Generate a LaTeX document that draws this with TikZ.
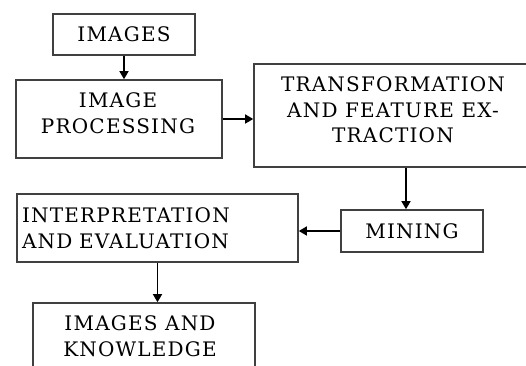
\documentclass[tikz,border=0pt]{standalone}
\usepackage{fontspec}
\newfontfamily\boxfont[LetterSpace=6]{DejaVu Serif}
\usetikzlibrary{arrows.meta}
\begin{document}
\begin{tikzpicture}[x=1pt,y=-1pt,
  txt/.style={font=\boxfont\fontsize{20}{25.5}\selectfont, text=black, inner sep=0pt, align=center},
  box/.style={draw=black!75, line width=1.6pt, inner sep=0pt, align=center, txt},
  conn/.style={line width=1.4pt, -{Triangle[length=8pt,width=9pt]}}]
\useasboundingbox (0,0) rectangle (526,365);
\clip (0,0) rectangle (526,365);
\node[box, minimum width=142pt, minimum height=41pt] (img) at (124,34.5) {IMAGES};
\node[box, minimum width=206pt, minimum height=78pt] (proc) at (119,119) {};
\node[txt] (proctext) at (118,113) {IMAGE\\PROCESSING};
\node[box, minimum width=278pt, minimum height=103pt] (trans) at (393,115.5) {};
\node[txt] (transtext) at (393,110) {TRANSFORMATION\\AND FEATURE EX-\\TRACTION};
\node[box, minimum width=142pt, minimum height=42pt] (mine) at (412,231) {MINING};
\node[box, minimum width=281pt, minimum height=68pt, text width=271pt, align=left] (interp) at (157.5,228) {INTERPRETATION\\AND EVALUATION};
\node[box, minimum width=222pt, minimum height=100pt] (know) at (144,353) {};
\node[txt] (knowtext) at (140,336) {IMAGES AND\\KNOWLEDGE};
\coordinate (ax) at (406,0);
\draw[conn] (img.south) -- (img.south |- proc.north);
\draw[conn] (proc.east) -- (proc.east -| trans.west);
\draw[conn] (trans.south -| ax) -- (mine.north -| ax);
\draw[conn] (mine.west) -- (mine.west -| interp.east);
\draw[conn] (interp.south) -- (interp.south |- know.north);
\end{tikzpicture}
\end{document}
